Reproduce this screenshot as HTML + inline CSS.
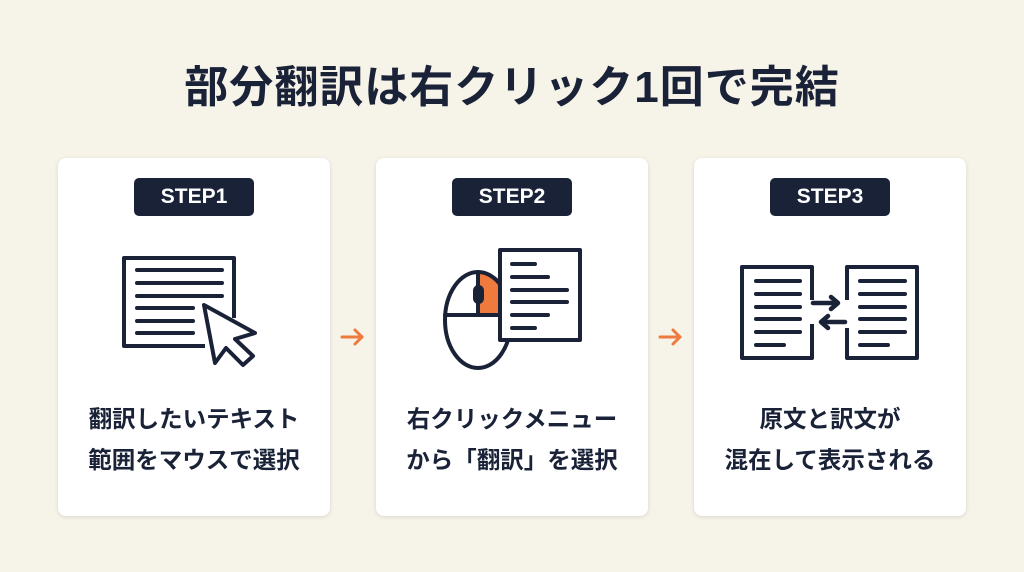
<!DOCTYPE html>
<html><head><meta charset="utf-8"><style>
body{margin:0;width:1024px;height:572px;background:#f6f3e8;font-family:"Liberation Sans","Noto Sans CJK JP",sans-serif;position:relative;overflow:hidden;color:#1a2238}
.t{position:absolute;top:60px;left:0;width:1024px;text-align:center;font-size:44px;font-weight:bold;letter-spacing:1px;line-height:56px}
.c{position:absolute;top:158px;width:272px;height:358px;background:#fff;border-radius:8px;box-shadow:0 1px 4px rgba(0,0,0,.12)}
.b{position:absolute;top:20px;left:76px;width:120px;height:38px;background:#1a2238;color:#fff;border-radius:5px;text-align:center;line-height:38px;font-size:21px;font-weight:bold}
.x{position:absolute;top:241px;left:0;width:272px;text-align:center;font-size:23.5px;font-weight:bold;line-height:41px}
svg{position:absolute;left:0;top:0}
</style></head><body>
<div class="t">部分翻訳は右クリック1回で完結</div>
<div class="c" style="left:58px"><div class="b">STEP1</div><div class="x">翻訳したいテキスト<br>範囲をマウスで選択</div></div>
<div class="c" style="left:376px"><div class="b">STEP2</div><div class="x">右クリックメニュー<br>から「翻訳」を選択</div></div>
<div class="c" style="left:694px"><div class="b">STEP3</div><div class="x">原文と訳文が<br>混在して表示される</div></div>
<svg width="1024" height="572" fill="none" stroke="#1a2238" stroke-width="4" stroke-linecap="round" stroke-linejoin="round">
<polyline points="205,346 124,346 124,258 234,258 234,318" stroke-linecap="butt"/>
<g><line x1="137" y1="270" x2="222" y2="270"/><line x1="137" y1="283" x2="222" y2="283"/><line x1="137" y1="296" x2="222" y2="296"/><line x1="137" y1="308" x2="193" y2="308"/><line x1="137" y1="321" x2="193" y2="321"/><line x1="137" y1="333" x2="193" y2="333"/></g>
<polygon points="204,305 255,333 235,339 253,356 243,365 226,348 215,363" fill="#fff"/>
<path d="M478,272 A33,34 0 0 1 500,280 L500,315 L478,315 Z" fill="#ee7a3e" stroke="none"/>
<ellipse cx="478" cy="320" rx="33" ry="48" fill="none"/>
<line x1="445" y1="315" x2="511" y2="315"/><line x1="478" y1="272" x2="478" y2="315"/>
<rect x="475" y="287" width="7" height="15" rx="3.5"/>
<path d="M500,250 L580,250 L580,340 L500,340 Z" fill="#fff"/>
<g><line x1="512" y1="264" x2="535" y2="264"/><line x1="512" y1="277" x2="548" y2="277"/><line x1="512" y1="290" x2="567" y2="290"/><line x1="512" y1="302" x2="567" y2="302"/><line x1="512" y1="315" x2="548" y2="315"/><line x1="512" y1="328" x2="535" y2="328"/></g>
<polyline points="812,300 812,267 742,267 742,358 812,358 812,324" stroke-linecap="butt"/>
<polyline points="847,300 847,267 917,267 917,358 847,358 847,328" stroke-linecap="butt"/>
<g><line x1="756" y1="281" x2="800" y2="281"/><line x1="756" y1="294" x2="800" y2="294"/><line x1="756" y1="307" x2="800" y2="307"/><line x1="756" y1="319" x2="800" y2="319"/><line x1="756" y1="332" x2="800" y2="332"/><line x1="756" y1="345" x2="784" y2="345"/>
<line x1="860" y1="281" x2="905" y2="281"/><line x1="860" y1="294" x2="905" y2="294"/><line x1="860" y1="307" x2="905" y2="307"/><line x1="860" y1="319" x2="905" y2="319"/><line x1="860" y1="332" x2="905" y2="332"/><line x1="860" y1="345" x2="888" y2="345"/></g>
<g stroke-width="4.5"><line x1="813" y1="303" x2="837" y2="303"/><polyline points="831,297 838,303 831,309"/>
<line x1="845" y1="322" x2="822" y2="322"/><polyline points="828,316 821,322 828,328"/></g>
<g stroke="#ee7a3e" stroke-width="3"><line x1="342" y1="337" x2="362" y2="337"/><polyline points="355,330 362,337 355,344"/>
<line x1="660" y1="337" x2="680" y2="337"/><polyline points="673,330 680,337 673,344"/></g>
</svg>
</body></html>
